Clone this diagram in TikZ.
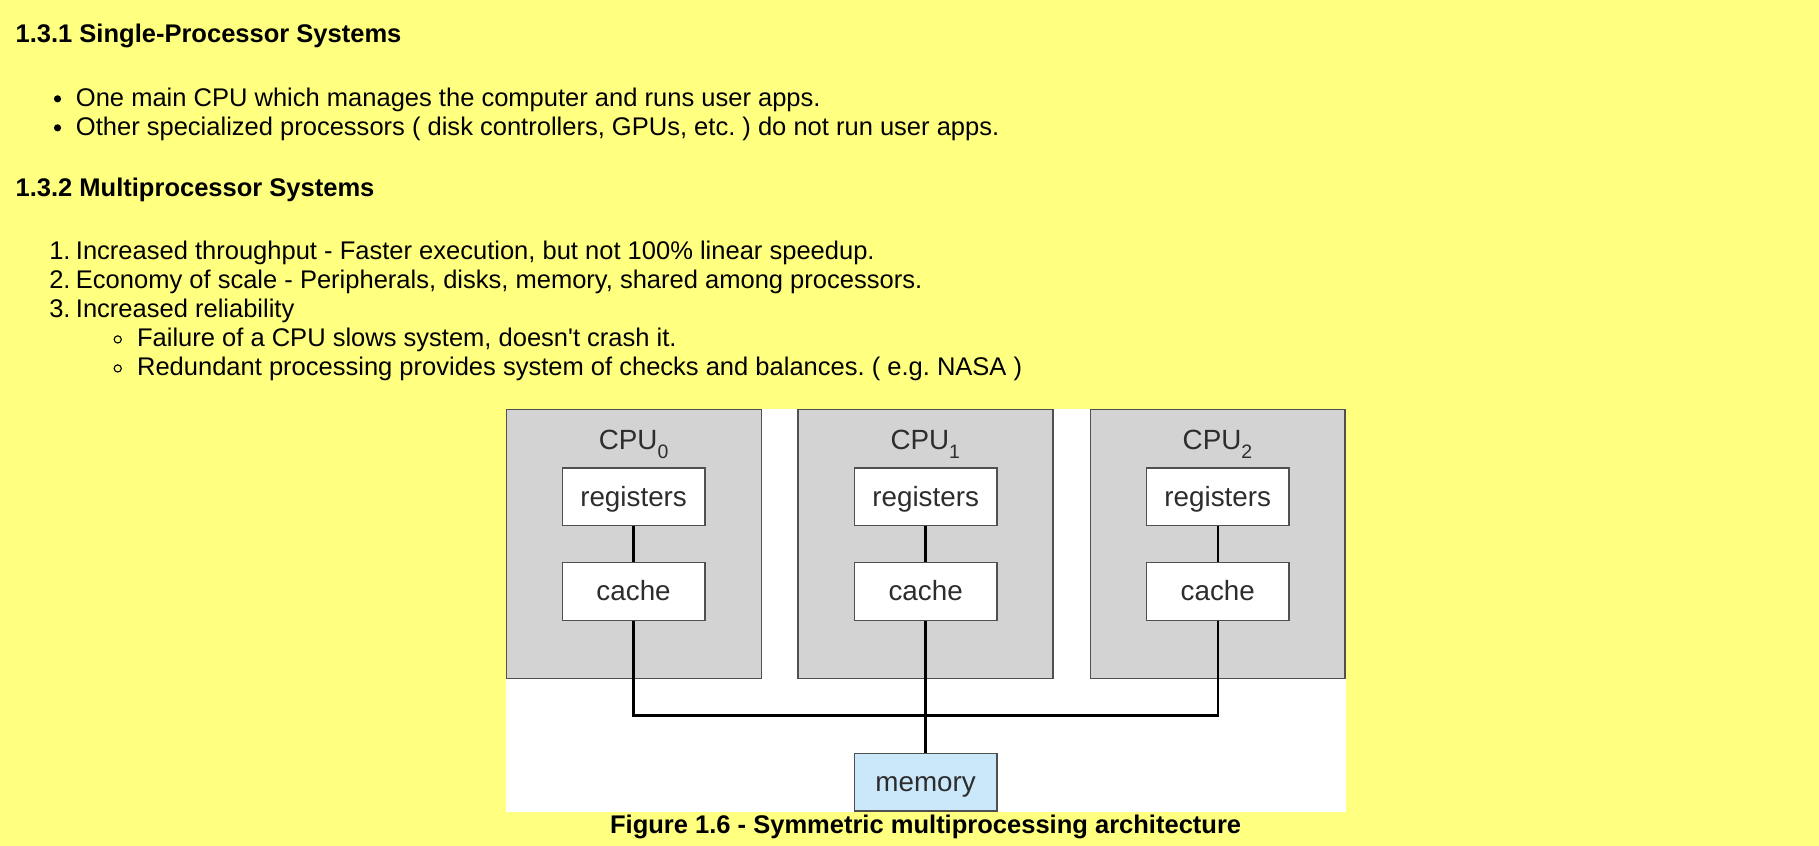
\documentclass[tikz,border=0pt]{standalone}
\usepackage{fontspec}
\setmainfont{Liberation Sans}
\frenchspacing
\definecolor{bgyellow}{RGB}{255,255,128}
\definecolor{cpugray}{RGB}{211,211,212}
\definecolor{boxline}{RGB}{80,80,80}
\definecolor{figtext}{RGB}{45,45,45}
\definecolor{memblue}{RGB}{202,232,250}
\begin{document}
\begin{tikzpicture}[x=1.1601pt,y=-1.1601pt,
  body/.style={inner sep=0pt, anchor=base west, font=\fontsize{25.52}{30}\selectfont},
  head/.style={inner sep=0pt, anchor=base west, font=\fontsize{25.52}{30}\selectfont\bfseries},
  dot/.style={circle, fill=black, inner sep=0pt, minimum size=7.2pt},
  ring/.style={circle, draw=black, line width=1.1pt, inner sep=0pt, minimum size=7.2pt},
  cpubox/.style={draw=boxline, fill=cpugray, line width=1.4pt, minimum width=254.8pt, minimum height=269.4pt, inner sep=0pt},
  unitbox/.style={draw=boxline, fill=white, line width=1.4pt, minimum width=142.6pt, minimum height=57.7pt, inner sep=0pt, text=figtext, font=\fontsize{27.8}{30}\selectfont, text height=18.6pt, text depth=0pt},
  membox/.style={unitbox, fill=memblue},
  cpulabel/.style={inner sep=0pt, anchor=base, text=figtext, font=\fontsize{27.8}{30}\selectfont},
  wire/.style={draw=black, line width=2.4pt}
]
\useasboundingbox (0,0) rectangle (1568,729.2);
\fill[bgyellow] (0,0) rectangle (1568,729.2);

% text
\node[head] (h1) at (13.3,36.8) {1.3.1 Single-Processor Systems};
\node[dot] (b1) at (49.6,85.2) {};
\node[body] (t1) at (65.3,91.4) {One main CPU which manages the computer and runs user apps.};
\node[dot] (b2) at (49.6,110.2) {};
\node[body] (t2) at (65.3,116.4) {Other specialized processors ( disk controllers, GPUs, etc. ) do not run user apps.};
\node[head] (h2) at (13.3,169.5) {1.3.2 Multiprocessor Systems};
\node[body] (n1) at (42.3,224) {1.};
\node[body] (i1) at (65.3,224) {Increased throughput - Faster execution, but not 100\% linear speedup.};
\node[body] (n2) at (42.3,248.6) {2.};
\node[body] (i2) at (65.3,248.6) {Economy of scale - Peripherals, disks, memory, shared among processors.};
\node[body] (n3) at (42.3,273.6) {3.};
\node[body] (i3) at (65.3,273.6) {Increased reliability};
\node[ring] (r1) at (101.5,292.6) {};
\node[body] (s1) at (118,298.9) {Failure of a CPU slows system, doesn\textquotesingle t crash it.};
\node[ring] (r2) at (101.5,317.6) {};
\node[body] (s2) at (118,323.9) {Redundant processing provides system of checks and balances. ( e.g. NASA )};

% figure
\fill[white] (436.6,352.8) rectangle (1160,699.7);
\node[cpubox] (cpu0) at (546.4,468.9) {};
\node[cpubox] (cpu1) at (797.8,468.9) {};
\node[cpubox] (cpu2) at (1049.7,468.9) {};
\node[cpulabel] (l0) at (546.4,387.3) {CPU\raisebox{-0.3ex}{\textsubscript{0}}};
\node[cpulabel] (l1) at (797.8,387.3) {CPU\raisebox{-0.3ex}{\textsubscript{1}}};
\node[cpulabel] (l2) at (1049.7,387.3) {CPU\raisebox{-0.3ex}{\textsubscript{2}}};
\node[unitbox] (reg0) at (546.15,428.25) {registers};
\node[unitbox] (reg1) at (797.9,428.25) {registers};
\node[unitbox] (reg2) at (1049.7,428.25) {registers};
\node[unitbox] (cache0) at (546.15,510) {cache};
\node[unitbox] (cache1) at (797.9,510) {cache};
\node[unitbox] (cache2) at (1049.7,510) {cache};
\node[membox] (mem) at (797.9,674.25) {memory};
\coordinate (busL) at (546.15,616.9);
\coordinate (busR) at (1049.7,616.9);

\draw[wire] (reg0) -- (cache0);
\draw[wire] (reg1) -- (cache1);
\draw[wire] (reg2) -- (cache2);
\draw[wire] (cache0) -- (busL) -- (busR) -- (cache2);
\draw[wire] (cache1) -- (mem);

\node[head, anchor=base] (cap) at (797.9,718.3) {Figure 1.6 - Symmetric multiprocessing architecture};
\end{tikzpicture}
\end{document}
